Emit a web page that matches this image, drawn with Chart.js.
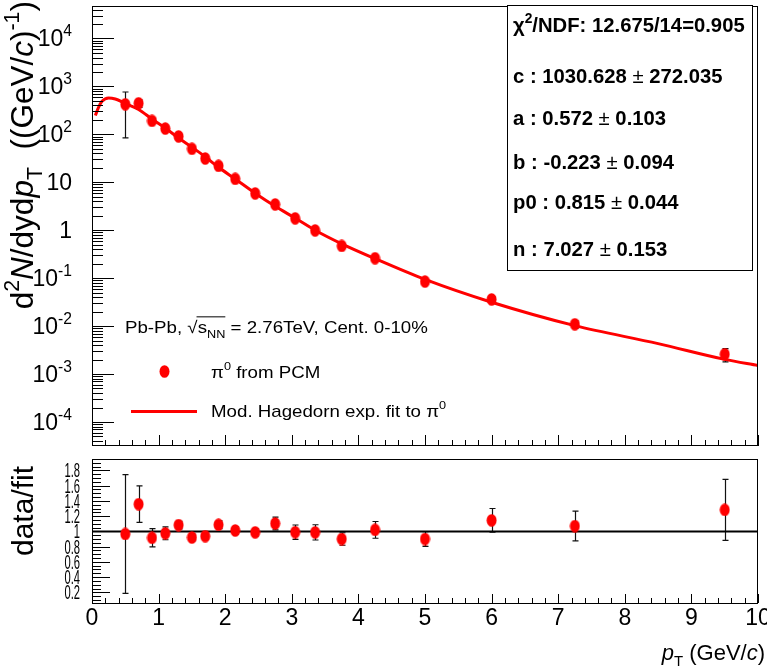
<!DOCTYPE html>
<html>
<head>
<meta charset="utf-8">
<script src="https://cdn.jsdelivr.net/npm/chart.js@4.4.0/dist/chart.umd.min.js"></script>
<style>
  html, body { margin: 0; padding: 0; background: #fff; }
  #wrap { position: relative; width: 767px; height: 670px; }
  canvas { position: absolute; left: 0; }
  #topPad { top: 0; }
  #botPad { top: 452px; }
</style>
</head>
<body>
<div id="wrap">
  <canvas id="topPad" width="767" height="453"></canvas>
  <canvas id="botPad" width="767" height="218"></canvas>
</div>
<script>
// ====== DATA ======
const pT        = [0.5, 0.7, 0.9, 1.1, 1.3, 1.5, 1.7, 1.9, 2.15, 2.45, 2.75, 3.05, 3.35, 3.75, 4.25, 5.0, 6.0, 7.25, 9.5];
const yieldVal  = [424, 444, 191, 132, 90.6, 50, 31.4, 22, 11.8, 5.85, 3.45, 1.77, 0.99, 0.47, 0.26, 0.085, 0.036, 0.0109, 0.00259];
const yieldErr  = [340, 80, 25, 12, 4.5, 2.5, 1.6, 1.1, 0.6, 0.3, 0.26, 0.17, 0.1, 0.042, 0.028, 0.0085, 0.0049, 0.002, 0.0008];
const ratioVal  = [0.966, 1.357, 0.916, 0.975, 1.083, 0.92, 0.937, 1.087, 1.012, 0.987, 1.104, 0.99, 0.987, 0.9, 1.02, 0.9, 1.145, 1.07, 1.283];
const ratioErr  = [0.78, 0.24, 0.12, 0.085, 0.05, 0.045, 0.045, 0.05, 0.05, 0.05, 0.083, 0.094, 0.1, 0.082, 0.11, 0.098, 0.155, 0.195, 0.4];

// fit curve, sampled by eye
const fitPT  = [0.05, 0.1, 0.15, 0.25, 0.35, 0.5, 0.7, 0.9, 1.1, 1.3, 1.5, 1.7, 1.9, 2.15, 2.45, 2.75, 3.05, 3.35, 3.75, 4.25, 5, 6, 7.25, 8.5, 9.5, 10];
const fitVal = [247, 370, 488, 575, 545, 440, 330, 208, 135, 84, 54, 34, 20.5, 11.7, 5.9, 3.15, 1.79, 1.0, 0.52, 0.255, 0.094, 0.0314, 0.0102, 0.0043, 0.00202, 0.0015];

const unityX = [0, 10];
const unityY = [1, 1];

const logDecades = [-4, -3, -2, -1, 0, 1, 2, 3, 4];
const ratioTicks = [0.2, 0.4, 0.6, 0.8, 1, 1.2, 1.4, 1.6, 1.8];
const xTicks     = [0, 1, 2, 3, 4, 5, 6, 7, 8, 9, 10];

const statLines = [
  [{ t: "\u03C7" }, { t: "2", sup: true }, { t: "/NDF: 12.675/14=0.905" }],
  [{ t: "c : 1030.628 " }, { t: "\u00B1", w: "normal" }, { t: " 272.035" }],
  [{ t: "a : 0.572 " }, { t: "\u00B1", w: "normal" }, { t: " 0.103" }],
  [{ t: "b : -0.223 " }, { t: "\u00B1", w: "normal" }, { t: " 0.094" }],
  [{ t: "p0 : 0.815 " }, { t: "\u00B1", w: "normal" }, { t: " 0.044" }],
  [{ t: "n : 7.027 " }, { t: "\u00B1", w: "normal" }, { t: " 0.153" }]
];
const statBase = [32, 83, 125, 169, 209, 256];

const FAM = "'Liberation Sans', Arial, Helvetica, sans-serif";
const RED = "#ff0000";

// ====== HELPERS ======
// rich text: parts with sup/sub/italic, optional rotation and horizontal squeeze
function richText(ctx, x, y, parts, o) {
  const size = o.size;
  const fontFor = p => {
    const s = (p.sup || p.sub) ? size * 0.68 : size;
    return (p.it ? "italic " : "") + (p.w || o.weight || "normal") + " " + s + "px " + FAM;
  };
  let total = 0;
  parts.forEach(p => { ctx.font = fontFor(p); p._w = ctx.measureText(p.t).width; total += p._w; });
  ctx.save();
  ctx.translate(x, y);
  if (o.rot) ctx.rotate(o.rot);
  ctx.scale(o.sx || 1, 1);
  let cx = o.align === "right" ? -total : o.align === "center" ? -total / 2 : 0;
  ctx.fillStyle = o.color || "#000";
  ctx.textAlign = "left";
  ctx.textBaseline = "alphabetic";
  let barFrom = null;
  parts.forEach(p => {
    ctx.font = fontFor(p);
    const dy = p.sup ? -size * 0.45 : p.sub ? size * 0.28 : 0;
    ctx.fillText(p.t, cx, dy);
    if (p.over && barFrom === null) barFrom = cx;
    cx += p._w;
    if (p.overEnd) {
      ctx.fillRect(barFrom - 1, -size * 0.98, cx - barFrom + 1, 1);
    }
  });
  ctx.restore();
}

function seg(ctx, x1, y1, x2, y2) { ctx.moveTo(x1, y1); ctx.lineTo(x2, y2); }

// ellipse marker (ROOT full circle looks squeezed here)
const dot = document.createElement("canvas");
dot.width = 11; dot.height = 13;
const dc = dot.getContext("2d");
dc.fillStyle = RED;
dc.beginPath(); dc.ellipse(5.5, 6.5, 5.0, 6.3, 0, 0, 2 * Math.PI); dc.fill();

// ====== PLUGINS ======
const errorBars = {
  id: "errorBars",
  beforeDatasetsDraw(chart) {
    const ctx = chart.ctx, xs = chart.scales.x, ys = chart.scales.y;
    chart.data.datasets.forEach(ds => {
      if (!ds.errors) return;
      ctx.save();
      ctx.strokeStyle = "#111";
      ctx.lineWidth = 1.2;
      ctx.beginPath();
      ds.data.forEach((p, i) => {
        const e = ds.errors[i];
        const px = Math.round(xs.getPixelForValue(p.x)) + 0.5;
        const y1 = ys.getPixelForValue(p.y + e);
        const y2 = ys.getPixelForValue(p.y - e);
        seg(ctx, px, y1, px, y2);
        seg(ctx, px - 3, y1, px + 3, y1);
        seg(ctx, px - 3, y2, px + 3, y2);
      });
      ctx.stroke();
      ctx.restore();
    });
  }
};

const topDecor = {
  id: "topDecor",
  afterDraw(chart) {
    const ctx = chart.ctx, a = chart.chartArea, xs = chart.scales.x, ys = chart.scales.y;
    const L = Math.round(a.left), R = Math.round(a.right), T = Math.round(a.top), B = Math.round(a.bottom);
    ctx.save();
    ctx.strokeStyle = "#000";
    ctx.lineWidth = 1;
    ctx.strokeRect(L + 0.5, T - 0.5, R - L - 1, B - T);

    // log ticks on the left
    ctx.beginPath();
    for (let d = -5; d <= 4; d++) {
      for (let k = 1; k <= 9; k++) {
        const v = k * Math.pow(10, d);
        if (v < ys.min || v > ys.max) continue;
        const y = Math.round(ys.getPixelForValue(v)) + 0.5;
        seg(ctx, L, y, L + (k === 1 ? 22 : 11), y);
      }
    }
    // x ticks on the lower edge, pointing up
    for (let i = 0; i <= 50; i++) {
      const x = Math.round(xs.getPixelForValue(i * 0.2)) + 0.5;
      seg(ctx, x, B, x, B - (i % 5 === 0 ? 11 : 6));
    }
    ctx.stroke();

    // y labels
    logDecades.forEach(d => {
      const y = ys.getPixelForValue(Math.pow(10, d));
      let parts;
      if (d === 0) parts = [{ t: "1" }];
      else if (d === 1) parts = [{ t: "10" }];
      else parts = [{ t: "10" }, { t: d < 0 ? "-" + (-d) : String(d), sup: true }];
      richText(ctx, 72, y + 8, parts, { size: 23, align: "right" });
    });

    // y title
    richText(ctx, 33, 1, [
      { t: "d" }, { t: "2", sup: true }, { t: "N", it: true }, { t: "/d" }, { t: "y" }, { t: "d" },
      { t: "p", it: true }, { t: "T", sub: true }, { t: "  ((GeV/" }, { t: "c", it: true }, { t: ")" },
      { t: "-1", sup: true }, { t: ")" }
    ], { size: 31.5, rot: -Math.PI / 2, align: "right" });

    // legend
    richText(ctx, 125, 333, [
      { t: "Pb-Pb, " }, { t: "\u221A" }, { t: "s", over: true }, { t: "NN", sub: true, overEnd: true },
      { t: " = 2.76TeV, Cent. 0-10%" }
    ], { size: 17, sx: 1.1 });
    ctx.drawImage(dot, 164.5 - 5.5, 371.5 - 6.5);
    richText(ctx, 211, 378, [{ t: "\u03C0" }, { t: "0", sup: true }, { t: " from PCM" }], { size: 17, sx: 1.1 });
    ctx.strokeStyle = RED;
    ctx.lineWidth = 3;
    ctx.beginPath(); seg(ctx, 131, 411.5, 197, 411.5); ctx.stroke();
    richText(ctx, 211, 417, [{ t: "Mod. Hagedorn exp. fit to " }, { t: "\u03C0" }, { t: "0", sup: true }], { size: 17, sx: 1.1 });

    // fit statistics box
    ctx.fillStyle = "#fff";
    ctx.fillRect(507, 5, 245, 265);
    ctx.strokeStyle = "#000";
    ctx.lineWidth = 1;
    ctx.strokeRect(507.5, 5.5, 245, 265);
    statLines.forEach((parts, i) => {
      richText(ctx, 513, statBase[i], parts, { size: 21, weight: "bold", sx: 0.965 });
    });
    ctx.restore();
  }
};

const botDecor = {
  id: "botDecor",
  afterDraw(chart) {
    const ctx = chart.ctx, a = chart.chartArea, xs = chart.scales.x, ys = chart.scales.y;
    const L = Math.round(a.left), R = Math.round(a.right), T = Math.round(a.top), B = Math.round(a.bottom);
    ctx.save();
    ctx.strokeStyle = "#000";
    ctx.lineWidth = 1;
    ctx.strokeRect(L + 0.5, T + 0.5, R - L - 1, B - T);

    ctx.beginPath();
    for (let i = 2; i <= 39; i++) {
      const v = i * 0.05;
      if (v < ys.min || v > ys.max) continue;
      const y = Math.round(ys.getPixelForValue(v)) + 0.5;
      seg(ctx, L, y, L + (i % 4 === 0 ? 18 : 9), y);
    }
    for (let i = 0; i <= 50; i++) {
      const x = Math.round(xs.getPixelForValue(i * 0.2)) + 0.5;
      seg(ctx, x, B, x, B - (i % 5 === 0 ? 9 : 5));
    }
    ctx.stroke();

    ratioTicks.forEach(v => {
      const y = ys.getPixelForValue(v);
      richText(ctx, 80, y + 7, [{ t: String(v) }], { size: 20, sx: 0.56, align: "right" });
    });
    xTicks.forEach(v => {
      richText(ctx, xs.getPixelForValue(v), 173, [{ t: String(v) }], { size: 23, align: "center" });
    });

    richText(ctx, 765, 208, [
      { t: "p", it: true }, { t: "T", sub: true }, { t: " (GeV/" }, { t: "c", it: true }, { t: ")" }
    ], { size: 22, align: "right" });

    richText(ctx, 33, 104, [{ t: "data/fit" }], { size: 30, rot: -Math.PI / 2 });
    ctx.restore();
  }
};

const common = {
  responsive: false,
  animation: false,
  devicePixelRatio: 1,
  events: [],
  plugins: { legend: { display: false }, tooltip: { enabled: false } }
};

// ====== TOP PAD: spectrum ======
new Chart(document.getElementById("topPad"), {
  type: "scatter",
  data: {
    datasets: [
      {
        label: "Mod. Hagedorn fit",
        data: fitPT.map((x, i) => ({ x: x, y: fitVal[i] })),
        showLine: true,
        borderColor: RED,
        borderWidth: 3,
        pointRadius: 0,
        cubicInterpolationMode: "monotone",
        order: 2
      },
      {
        label: "pi0 from PCM",
        data: pT.map((x, i) => ({ x: x, y: yieldVal[i] })),
        errors: yieldErr,
        pointStyle: dot,
        pointRadius: 6,
        showLine: false,
        order: 1
      }
    ]
  },
  options: Object.assign({}, common, {
    layout: { padding: { left: 92, right: 9, top: 1, bottom: 1 } },
    scales: {
      x: { type: "linear", min: 0, max: 10, display: false },
      y: { type: "logarithmic", min: 3.15e-5, max: 45300, display: false }
    }
  }),
  plugins: [errorBars, topDecor]
});

// ====== BOTTOM PAD: data/fit ======
new Chart(document.getElementById("botPad"), {
  type: "scatter",
  data: {
    datasets: [
      {
        label: "unity",
        data: unityX.map((x, i) => ({ x: x, y: unityY[i] })),
        showLine: true,
        borderColor: "#000",
        borderWidth: 2,
        pointRadius: 0,
        order: 2
      },
      {
        label: "data/fit",
        data: pT.map((x, i) => ({ x: x, y: ratioVal[i] })),
        errors: ratioErr,
        pointStyle: dot,
        pointRadius: 6,
        showLine: false,
        order: 1
      }
    ]
  },
  options: Object.assign({}, common, {
    layout: { padding: { left: 92, right: 9, top: 0, bottom: 67 } },
    scales: {
      x: { type: "linear", min: 0, max: 10, display: false },
      y: { type: "linear", min: 0.06, max: 1.95, display: false }
    }
  }),
  plugins: [errorBars, botDecor]
});
</script>
</body>
</html>
